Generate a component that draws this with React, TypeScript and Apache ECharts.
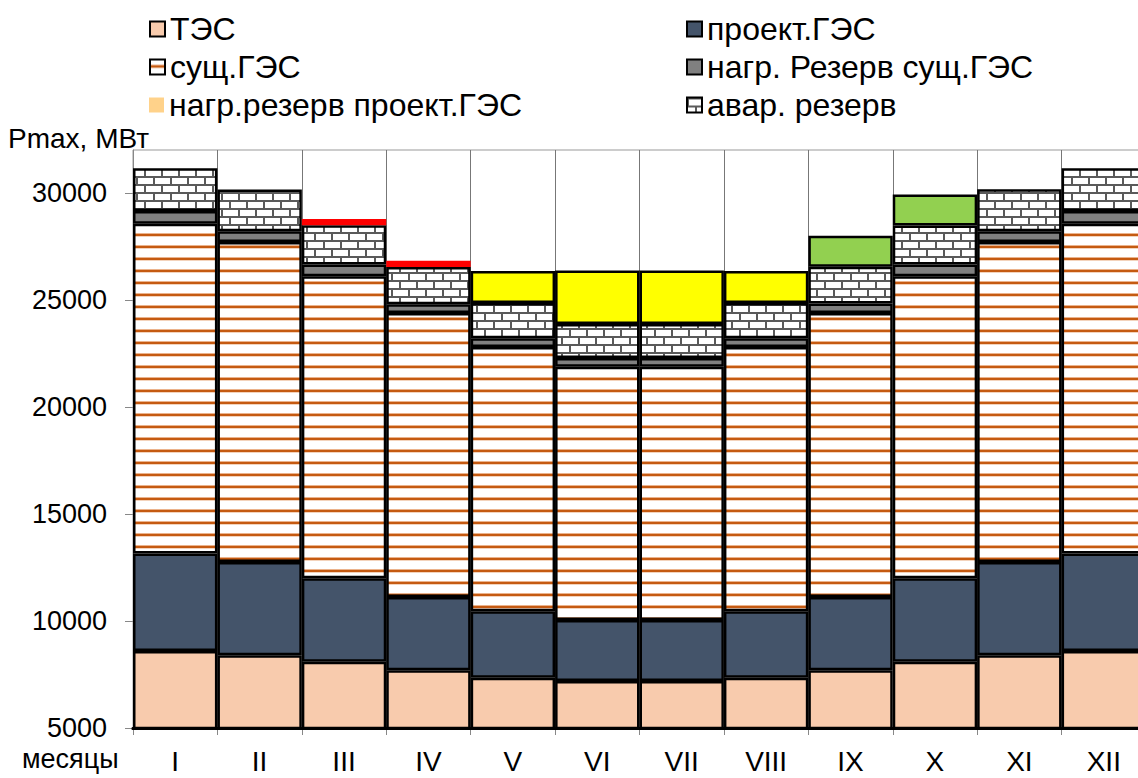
import React, { useEffect, useRef } from 'react';
import * as echarts from 'echarts';

const months = ['I', 'II', 'III', 'IV', 'V', 'VI', 'VII', 'VIII', 'IX', 'X', 'XI', 'XII'];
const tes = [8600, 8400, 8100, 7700, 7350, 7200, 7200, 7350, 7700, 8100, 8400, 8600];
const proektGes = [4550, 4350, 3900, 3420, 3100, 2850, 2850, 3100, 3420, 3900, 4350, 4550];
const sushGes = [15400, 14950, 14100, 13260, 12350, 11830, 11830, 12350, 13260, 14100, 14950, 15400];
const nagrRezervSush = [600, 500, 550, 420, 410, 400, 400, 410, 450, 550, 500, 600];
const avarRezerv = [2000, 1950, 1830, 1730, 1640, 1590, 1590, 1640, 1720, 1820, 1970, 2000];
const nagrRezervProekt = [0, 0, 300, 300, 1500, 2500, 2500, 1500, 1450, 1450, 0, 0];
const yTicks = [5000, 10000, 15000, 20000, 25000, 30000];

// styles (not data)
const topColors = ['#FFFF00', '#FFFF00', '#FF0000', '#FF0000', '#FFFF00', '#FFFF00', '#FFFF00', '#FFFF00', '#92D050', '#92D050', '#FFFF00', '#FFFF00'];
const FONT = '"Liberation Sans", Arial, Helvetica, sans-serif';

function stripeUrl(): string {
  const c = document.createElement('canvas');
  c.width = 8; c.height = 12;
  const g = c.getContext('2d')!;
  g.fillStyle = '#ffffff'; g.fillRect(0, 0, 8, 12);
  g.fillStyle = '#EBB38C'; g.fillRect(0, 5, 8, 1);
  g.fillStyle = '#C55A11'; g.fillRect(0, 6, 8, 2);
  g.fillStyle = '#F3D3BC'; g.fillRect(0, 8, 8, 1);
  return c.toDataURL();
}

function brickUrl(): string {
  const c = document.createElement('canvas');
  c.width = 17; c.height = 16;
  const g = c.getContext('2d')!;
  g.fillStyle = '#ffffff'; g.fillRect(0, 0, 17, 16);
  g.fillStyle = '#5A5A5A';
  g.fillRect(0, 0, 17, 2);
  g.fillRect(0, 8, 17, 2);
  g.fillRect(0, 2, 2, 6);
  g.fillRect(8, 10, 2, 6);
  return c.toDataURL();
}

export default function App() {
  const ref = useRef<HTMLDivElement>(null);
  useEffect(() => {
    if (!ref.current) return;
    const chart = echarts.init(ref.current, null, { renderer: 'svg' });
    const stripe = { image: stripeUrl(), repeat: 'repeat', imageWidth: 8, imageHeight: 12 };
    const brick = { image: brickUrl(), repeat: 'repeat', imageWidth: 17, imageHeight: 16 };
    const base = {
      type: 'bar',
      stack: 'total',
      barCategoryGap: '0%',
      xAxisIndex: 0,
      yAxisIndex: 0,
    };
    const border = { borderColor: '#000', borderWidth: 2.5 };
    const legendText = { fontSize: 32, color: '#000', fontFamily: FONT };
    const mkLegend = (left: number, top: number, item: any) => ({
      left, top, padding: 0, itemWidth: 15, itemHeight: 15, selectedMode: false,
      icon: 'rect',
      textStyle: legendText,
      itemStyle: { borderColor: '#000', borderWidth: 2 },
      data: [item],
    });
    const option: any = {
      animation: false,
      backgroundColor: '#fff',
      textStyle: { fontFamily: FONT },
      grid: {
        left: 133, top: 150, right: 0, bottom: 50,
        show: true, borderColor: '#999', borderWidth: 1,
        outerBoundsMode: 'none', containLabel: false,
      },
      legend: [
        mkLegend(149, 13, 'ТЭС'),
        mkLegend(149, 51, 'сущ.ГЭС'),
        mkLegend(149, 89, { name: 'нагр.резерв проект.ГЭС', itemStyle: { borderWidth: 0 } }),
        mkLegend(686, 13, 'проект.ГЭС'),
        mkLegend(686, 51, 'нагр. Резерв сущ.ГЭС'),
        mkLegend(686, 89, 'авар. резерв'),
      ],
      xAxis: [
        {
          type: 'category', data: months, position: 'bottom',
          axisLine: { show: true, lineStyle: { color: '#000', width: 3 } },
          axisTick: { show: true, length: 7, lineStyle: { color: '#888', width: 1 } },
          axisLabel: { fontSize: 28, color: '#000', margin: 19, fontFamily: FONT },
          splitLine: { show: true, lineStyle: { color: '#777', width: 1 } },
        },
        {
          type: 'category', data: months, position: 'bottom', z: 10,
          axisLine: { show: true, lineStyle: { color: '#000', width: 3 } },
          axisTick: { show: false }, axisLabel: { show: false }, splitLine: { show: false },
        },
      ],
      yAxis: {
        type: 'value', min: 5000, max: 32000, interval: 5000,
        axisLine: { show: true, lineStyle: { color: '#888', width: 1 } },
        axisTick: { show: true, length: 8, customValues: yTicks, lineStyle: { color: '#888' } },
        axisLabel: {
          customValues: yTicks, fontSize: 27, color: '#000', margin: 26, fontFamily: FONT,
          formatter: (v: number) => String(v),
        },
        splitLine: { show: false },
      },
      graphic: [
        { type: 'text', left: 8, top: 124, style: { text: 'Pmax, МВт', fontSize: 28, fill: '#000', fontFamily: FONT } },
        { type: 'text', left: 22, top: 745, style: { text: 'месяцы', fontSize: 27, fill: '#000', fontFamily: FONT } },
      ],
      series: [
        { ...base, name: 'ТЭС', data: tes, itemStyle: { color: '#F8CBAD', ...border } },
        { ...base, name: 'проект.ГЭС', data: proektGes, itemStyle: { color: '#44546A', ...border } },
        { ...base, name: 'сущ.ГЭС', data: sushGes, itemStyle: { color: stripe, ...border } },
        { ...base, name: 'нагр. Резерв сущ.ГЭС', data: nagrRezervSush, itemStyle: { color: '#808080', ...border } },
        { ...base, name: 'авар. резерв', data: avarRezerv, itemStyle: { color: brick, ...border } },
        {
          ...base, name: 'нагр.резерв проект.ГЭС',
          itemStyle: { color: '#FFD28A', ...border },
          data: nagrRezervProekt.map((v, i) => v > 0 ? {
            value: v,
            itemStyle: { color: topColors[i], borderColor: '#000', borderWidth: topColors[i] === '#FF0000' ? 0 : 2.5 },
          } : '-'),
        },
      ],
    };
    chart.setOption(option);
    return () => chart.dispose();
  }, []);
  return (
    <div style={{ position: 'fixed', left: 0, top: 0, width: 1138, height: 778, overflow: 'hidden', background: '#fff' }}>
      <div ref={ref} style={{ width: 1146, height: 778 }} />
    </div>
  );
}
